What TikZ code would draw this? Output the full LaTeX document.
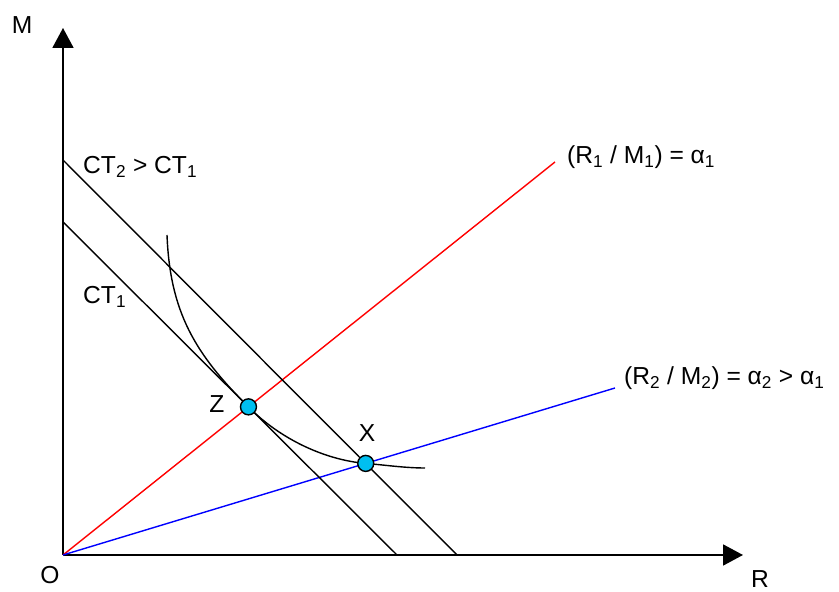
\documentclass[tikz,border=0pt]{standalone}
\usepackage{fontspec}
\setmainfont{Liberation Sans}
\usetikzlibrary{arrows.meta}
\definecolor{dotcyan}{RGB}{0,191,240}
\newcommand{\lowidx}[1]{\textsubscript{#1}}

\begin{document}
\begin{tikzpicture}[x=0.3mm,y=0.3mm,font=\fontsize{21}{25}\selectfont,
    axis/.style={line width=1.6pt,-{Triangle[length=6mm,width=6.3mm]}},
    isocost/.style={line width=1.2pt},
    ray/.style={line width=1.2pt},
    lbl/.style={inner sep=0pt},
    optpt/.style={circle,draw,line width=1.2pt,fill=dotcyan,minimum size=4.8mm,inner sep=0pt}]
  \useasboundingbox (0,0) rectangle (839,592);

  \coordinate (O) at (63,37);
  \coordinate (Mtip) at (63,564);
  \coordinate (Rtip) at (743,37);
  \coordinate (a1end) at (555,430);
  \coordinate (a2end) at (615,204);
  \coordinate (ct2top) at (63,432);
  \coordinate (ct2bot) at (457,37);
  \coordinate (ct1top) at (63,370);
  \coordinate (ct1bot) at (397,37);

  % axes
  \draw[axis] (O) -- (Mtip);
  \draw[axis] (O) -- (Rtip);
  \node[lbl] (Mlab) at (22,567) {M};
  \node[lbl] (Olab) at (50,17) {O};
  \node[lbl] (Rlab) at (760,13) {R};

  % rays
  \draw[ray,red] (O) -- (a1end);
  \draw[ray,blue] (O) -- (a2end);
  \node[lbl,anchor=west] (a1lab) at (567,435) {(R\lowidx{1} / M\lowidx{1}) = α\lowidx{1}};
  \node[lbl,anchor=west] (a2lab) at (624,214) {(R\lowidx{2} / M\lowidx{2}) = α\lowidx{2} > α\lowidx{1}};

  % iso-cost lines
  \draw[isocost] (ct2top) -- (ct2bot);
  \draw[isocost] (ct1top) -- (ct1bot);
  \node[lbl,anchor=west] (ct2lab) at (83,425) {CT\lowidx{2} > CT\lowidx{1}};
  \node[lbl,anchor=west] (ct1lab) at (83,295) {CT\lowidx{1}};

  \coordinate (Z) at (intersection of O--a1end and ct1top--ct1bot);
  \coordinate (X) at (intersection of O--a2end and ct2top--ct2bot);
  \coordinate (qtop) at (167,357);
  \coordinate (qend) at (425,124);

  % isoquant
  \draw[isocost] (qtop) .. controls (170,280) and (195,238) .. (Z)
    .. controls (280,153) and (325,132) .. (X)
    .. controls (385,127) and (405,124) .. (qend);

  \node[optpt] (Zpt) at (Z) {};
  \node[optpt] (Xpt) at (X) {};
  \node[lbl] (Zlab) at (217,188) {Z};
  \node[lbl] (Xlab) at (367,159) {X};
\end{tikzpicture}
\end{document}
